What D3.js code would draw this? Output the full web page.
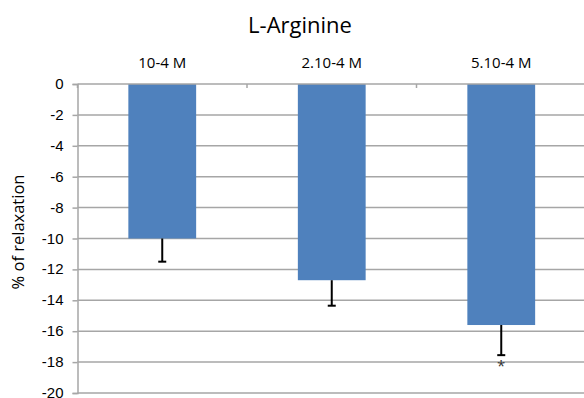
<!DOCTYPE html>
<html>
<head>
<meta charset="utf-8">
<script src="https://cdn.jsdelivr.net/npm/d3@7"></script>
<style>
  body { margin: 0; background: #fff; }
  svg { display: block; font-family: "Open Sans", "Noto Sans", sans-serif; }
</style>
</head>
<body>
<div id="chart"></div>
<script>
const categories = ['10-4 M', '2.10-4 M', '5.10-4 M'];
const values = [-10.0, -12.7, -15.6];
const errors = [1.5, 1.65, 1.95];
const marks = ['', '', '*'];
const yTicks = [0, -2, -4, -6, -8, -10, -12, -14, -16, -18, -20];

const WIDTH = 584;
const HEIGHT = 398;
const MARGIN = { left: 77.5, right: -2, top: 84, bottom: 5 };
const BAR_COLOR = '#4f81bd';
const GRID_COLOR = '#a6a6a6';

const svg = d3.select('#chart')
    .append('svg')
    .attr('width', WIDTH)
    .attr('height', HEIGHT);

const x = d3.scaleBand()
    .domain(categories)
    .range([MARGIN.left, WIDTH - MARGIN.right])
    .paddingInner(0.6)
    .paddingOuter(0.3);

const xBand = d3.scaleBand()
    .domain(categories)
    .range([MARGIN.left, WIDTH - MARGIN.right]);

const y = d3.scaleLinear()
    .domain([-20, 0])
    .range([HEIGHT - MARGIN.bottom, MARGIN.top]);

// gridlines
svg.append('g')
    .selectAll('line')
    .data(yTicks.filter(d => d !== 0))
    .join('line')
    .attr('x1', MARGIN.left)
    .attr('x2', WIDTH)
    .attr('y1', d => y(d))
    .attr('y2', d => y(d))
    .attr('stroke', GRID_COLOR)
    .attr('stroke-width', 1.5);

// y axis
const yAxis = svg.append('g')
    .attr('transform', `translate(${MARGIN.left},0)`)
    .call(d3.axisLeft(y).tickValues(yTicks).tickSize(5).tickPadding(9).tickFormat(d3.format('d')));
yAxis.select('.domain').attr('stroke', GRID_COLOR).attr('stroke-width', 1.5);
yAxis.selectAll('.tick line').attr('stroke', GRID_COLOR).attr('stroke-width', 1.5);
yAxis.selectAll('text')
    .attr('fill', '#000')
    .attr('dy', '0.3em')
    .style('font-size', '15px')
    .text(d => d < 0 ? '-' + Math.abs(d) : d);

// bars
svg.append('g')
    .selectAll('rect')
    .data(values)
    .join('rect')
    .attr('x', (d, i) => x(categories[i]))
    .attr('width', x.bandwidth())
    .attr('y', y(0))
    .attr('height', d => y(d) - y(0))
    .attr('fill', BAR_COLOR);

// top axis (category boundaries)
const boundaries = categories.map(c => xBand(c)).concat([WIDTH - MARGIN.right]);
svg.append('line')
    .attr('x1', MARGIN.left)
    .attr('x2', WIDTH)
    .attr('y1', y(0))
    .attr('y2', y(0))
    .attr('stroke', GRID_COLOR)
    .attr('stroke-width', 1.5);
svg.append('g')
    .selectAll('line')
    .data(boundaries)
    .join('line')
    .attr('x1', d => d)
    .attr('x2', d => d)
    .attr('y1', y(0))
    .attr('y2', y(0) + 4)
    .attr('stroke', GRID_COLOR)
    .attr('stroke-width', 1.5);

// category labels
svg.append('g')
    .selectAll('text')
    .data(categories)
    .join('text')
    .attr('x', d => xBand(d) + xBand.bandwidth() / 2)
    .attr('y', 68)
    .attr('text-anchor', 'middle')
    .style('font-size', '15px')
    .text(d => d);

// error bars
const err = svg.append('g')
    .attr('stroke', '#000')
    .attr('stroke-width', 2);
values.forEach((v, i) => {
    const cx = x(categories[i]) + x.bandwidth() / 2;
    err.append('line')
        .attr('x1', cx).attr('x2', cx)
        .attr('y1', y(v)).attr('y2', y(v - errors[i]));
    err.append('line')
        .attr('x1', cx - 4).attr('x2', cx + 4)
        .attr('y1', y(v - errors[i])).attr('y2', y(v - errors[i]));
});

// significance marks
svg.append('g')
    .selectAll('text')
    .data(values)
    .join('text')
    .attr('x', (d, i) => x(categories[i]) + x.bandwidth() / 2)
    .attr('y', (d, i) => y(d - errors[i]) + 16)
    .attr('text-anchor', 'middle')
    .style('font-size', '15px')
    .attr('fill', '#333')
    .text((d, i) => marks[i]);

// title
svg.append('text')
    .attr('x', 300)
    .attr('y', 33)
    .attr('text-anchor', 'middle')
    .style('font-size', '22px')
    .text('L-Arginine');

// y axis label
svg.append('text')
    .attr('transform', 'rotate(-90)')
    .attr('x', -232)
    .attr('y', 24)
    .attr('text-anchor', 'middle')
    .style('font-size', '16.5px')
    .text('% of relaxation');
</script>
</body>
</html>
